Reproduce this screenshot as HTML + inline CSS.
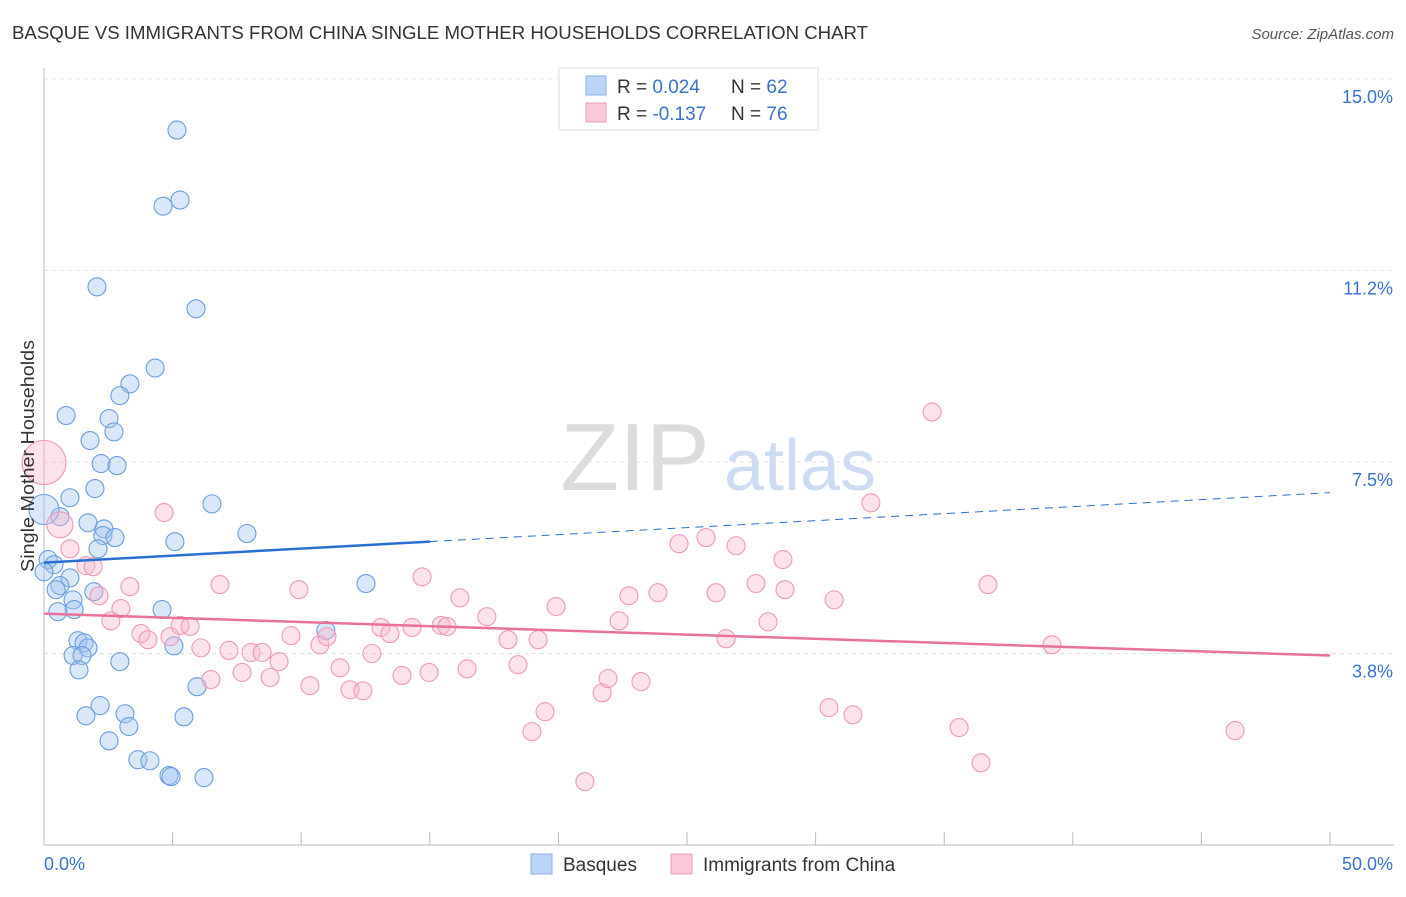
<!DOCTYPE html>
<html><head><meta charset="utf-8"><style>
body{margin:0;background:#fff;font-family:"Liberation Sans",sans-serif;}
svg text{font-family:"Liberation Sans",sans-serif;}
</style></head><body>
<svg id="chart" width="1406" height="892" xmlns="http://www.w3.org/2000/svg">
<text x="12" y="39" font-size="18" fill="#333" textLength="856" lengthAdjust="spacingAndGlyphs">BASQUE VS IMMIGRANTS FROM CHINA SINGLE MOTHER HOUSEHOLDS CORRELATION CHART</text>
<text x="1394" y="39" font-size="15" fill="#555" text-anchor="end" font-style="italic">Source: ZipAtlas.com</text>
<g>
<text x="635" y="490" font-size="96" fill="#dcdcdc" font-family="Liberation Serif" text-anchor="middle">ZIP</text>
<text x="800" y="490" font-size="72" fill="#cddcf2" text-anchor="middle">atlas</text>
</g>
<g id="grid"></g>
<g id="axes"></g>
<g id="pts"></g>
<g id="trends"></g>
<text transform="translate(34,456) rotate(-90)" font-size="18" fill="#333" text-anchor="middle" textLength="232" lengthAdjust="spacingAndGlyphs">Single Mother Households</text>
<g>
<rect x="559" y="68" width="259" height="62" fill="#fff" stroke="#ddd"/>
<rect x="586" y="76" width="20" height="19" fill="#bcd4f5" stroke="#8ab0e8"/>
<rect x="586" y="103" width="20" height="19" fill="#fbc9d8" stroke="#eda0b8"/>
<text x="617" y="93" font-size="19" fill="#333">R = <tspan fill="#3a72d0">0.024</tspan><tspan x="731">N = </tspan><tspan fill="#3a72d0">62</tspan></text>
<text x="617" y="120" font-size="19" fill="#333">R = <tspan fill="#3a72d0">-0.137</tspan><tspan x="731">N = </tspan><tspan fill="#3a72d0">76</tspan></text>
</g>
<g>
<rect x="531" y="854" width="21" height="20" fill="#bcd4f5" stroke="#8ab0e8"/>
<text x="563" y="871" font-size="19" fill="#333">Basques</text>
<rect x="671" y="854" width="21" height="20" fill="#fbc9d8" stroke="#eda0b8"/>
<text x="703" y="871" font-size="19" fill="#333">Immigrants from China</text>
</g>
</svg>
<script>
const yTicks=[3.75,7.5,11.25,15];
const yTickLabels=["3.8%","7.5%","11.2%","15.0%"];
const xTickLabels=["0.0%","50.0%"];
const blueX=[5.17,4.63,5.29,2.06,5.91,4.32,3.34,2.95,0.86,2.53,2.72,1.79,2.22,2.84,1.98,1.01,6.53,0.62,1.71,2.33,2.29,2.76,7.89,5.09,2.10,0.16,0.39,0,1.01,0.62,0.47,1.94,12.52,1.13,1.17,4.59,0.54,10.96,1.32,1.56,1.71,5.05,1.13,1.48,1.36,2.95,5.95,2.18,1.63,3.15,5.44,3.30,2.53,3.65,4.12,4.86,4.94,6.22];
const blueY=[14.0,12.51,12.63,10.93,10.5,9.34,9.03,8.8,8.41,8.35,8.09,7.92,7.47,7.43,6.98,6.8,6.68,6.43,6.31,6.19,6.06,6.02,6.1,5.94,5.8,5.59,5.49,5.35,5.23,5.08,5.0,4.96,5.12,4.8,4.61,4.61,4.57,4.2,4.0,3.96,3.86,3.9,3.71,3.71,3.43,3.59,3.1,2.73,2.53,2.57,2.51,2.32,2.04,1.67,1.65,1.36,1.34,1.32];
const pinkX=[1.01,1.63,1.91,2.14,2.99,2.60,3.34,4.67,3.77,4.04,4.90,5.29,5.68,6.84,6.10,6.49,7.19,7.70,8.05,8.48,8.79,9.14,9.60,9.91,10.34,10.73,11.00,11.51,11.90,12.40,12.75,13.10,13.45,13.92,14.31,14.70,14.97,15.44,15.67,16.17,16.45,17.22,18.04,18.43,19.21,19.48,18.97,19.91,21.03,21.70,21.93,22.36,22.74,23.21,23.87,24.69,25.74,26.13,26.91,26.52,27.68,28.73,28.81,28.15,30.52,30.72,31.45,32.15,34.53,35.58,36.43,36.70,39.19,46.31];
const pinkY=[5.8,5.47,5.45,4.88,4.63,4.39,5.06,6.51,4.14,4.02,4.08,4.3,4.28,5.1,3.86,3.24,3.81,3.38,3.77,3.77,3.28,3.59,4.1,5.0,3.12,3.92,4.08,3.47,3.04,3.02,3.75,4.26,4.14,3.32,4.26,5.25,3.38,4.3,4.28,4.84,3.45,4.47,4.02,3.53,4.02,2.61,2.22,4.67,1.24,2.98,3.26,4.39,4.88,3.2,4.94,5.9,6.02,4.94,5.86,4.04,5.12,5.59,5.0,4.37,2.69,4.8,2.55,6.7,8.48,2.3,1.61,5.1,3.92,2.24];
const bigX=[0,0,0.62];
const bigY=[6.57,7.49,6.27];
const blueTrend=[5.53,6.90];
const pinkTrend=[4.53,3.71];
const NS="http://www.w3.org/2000/svg";
const X=v=>44+v/50*1286;
const Y=v=>845-v/15*766;
function mk(tag,attrs,parent){const e=document.createElementNS(NS,tag);for(const k in attrs)e.setAttribute(k,attrs[k]);document.getElementById(parent).appendChild(e);return e;}
yTicks.forEach((t,i)=>{
 const l=mk('line',{x1:44,x2:1394,y1:Y(t),y2:Y(t),stroke:'#e2e2e2','stroke-dasharray':'4,4'},'grid');
 
 
 const tx=mk('text',{x:1393,y:Y(t)+24,'font-size':18,fill:'#3a72d0','text-anchor':'end'},'grid');
 tx.textContent=yTickLabels[i];
 
 
});
const ax=mk('line',{x1:44,x2:44,y1:68,y2:845,stroke:'#bbb'},'axes');


const bx=mk('line',{x1:44,x2:1394,y1:845,y2:845,stroke:'#bbb'},'axes');


for(let i=1;i<=10;i++){const t=mk('line',{x1:X(i*5),x2:X(i*5),y1:832,y2:845,stroke:'#bbb'},'axes');
 
 }
[0,50].forEach((v,i)=>{const t=mk('text',{x:i?1393:44,y:870,'font-size':18,fill:'#3a72d0','text-anchor':i?'end':'start'},'axes');t.textContent=xTickLabels[i];
 
 });
function dot(x,y,r,c){const e=mk('circle',{cx:X(x),cy:Y(y),r:r,fill:c==='b'?'rgba(160,195,240,0.4)':'rgba(248,185,205,0.4)',stroke:c==='b'?'#6a9de0':'#ee9ab6','stroke-width':1.1},'pts');return e;}
blueX.forEach((x,i)=>{const e=dot(x,blueY[i],9,'b');
 
 });
pinkX.forEach((x,i)=>{const e=dot(x,pinkY[i],9,'p');
 
 });
const bigR=[15,22,13],bigC=['b','p','p'];
bigX.forEach((x,i)=>{const e=dot(x,bigY[i],bigR[i],bigC[i]);
 
 });
const bAt=v=>blueTrend[0]+(blueTrend[1]-blueTrend[0])*v/50;
const t1=mk('line',{x1:X(0),y1:Y(bAt(0)),x2:X(15),y2:Y(bAt(15)),stroke:'#2a6fd0','stroke-width':2.5},'trends');


const t2=mk('line',{x1:X(15),y1:Y(bAt(15)),x2:X(50),y2:Y(bAt(50)),stroke:'#2a6fd0','stroke-width':1,'stroke-dasharray':'8,6'},'trends');


const t3=mk('line',{x1:X(0),y1:Y(pinkTrend[0]),x2:X(50),y2:Y(pinkTrend[1]),stroke:'#e8729a','stroke-width':2.5},'trends');


</script>
</body></html>
